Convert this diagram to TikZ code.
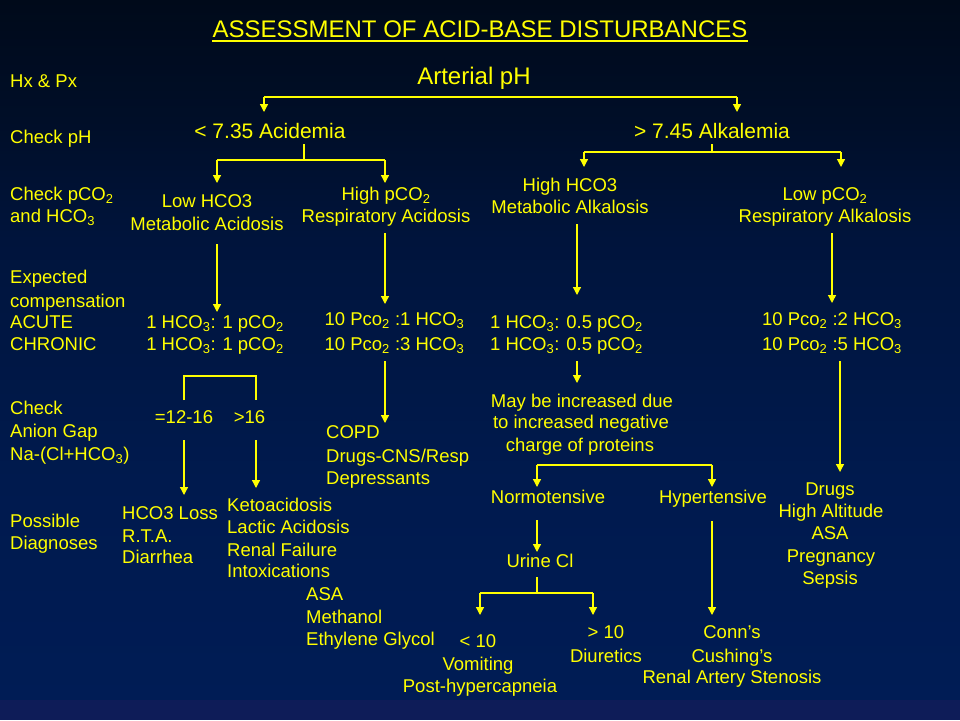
\documentclass[tikz,border=0pt]{standalone}
\usepackage{fontspec}
\setmainfont{Liberation Sans}
\usetikzlibrary{arrows.meta}
\definecolor{yel}{RGB}{255,255,0}
\definecolor{cA}{RGB}{0,10,26}
\definecolor{cB}{RGB}{0,14,40}
\definecolor{cC}{RGB}{0,20,60}
\definecolor{cD}{RGB}{0,26,78}
\definecolor{cE}{RGB}{0,28,85}
\definecolor{cstrip}{RGB}{14,28,88}
\pgfdeclareverticalshading{bgshade}{100bp}{color(0bp)=(cE); color(25bp)=(cE); color(40.7bp)=(cD); color(57.9bp)=(cC); color(66.4bp)=(cB); color(75bp)=(cA); color(100bp)=(cA)}
\newcommand\sub[1]{\textsubscript{#1}}
\begin{document}
\begin{tikzpicture}[x=1pt,y=-1pt,
  txt/.style={text=yel,inner sep=0pt,anchor=base,font=\fontsize{18.5}{22}\selectfont},
  ltxt/.style={txt,anchor=base west},
  big/.style={txt,font=\fontsize{24}{28}\selectfont},
  mid/.style={txt,font=\fontsize{21}{25}\selectfont},
  ln/.style={draw=yel,line width=1.3pt},
  arr/.style={ln,-{Triangle[width=8pt,length=8pt]}}]
\useasboundingbox (0,0) rectangle (960,720);
\shade[shading=bgshade] (0,0) rectangle (960,700);
\fill[cstrip] (0,700) rectangle (960,720);
% title
\node[big] (title) at (480,37) {ASSESSMENT OF ACID-BASE DISTURBANCES};
\draw[yel,line width=1.6pt] ([yshift=-4pt]title.base west) -- ([yshift=-4pt]title.base east);
% left labels
\node[ltxt] (hx) at (10,87) {Hx \& Px};
\node[ltxt] (chkph) at (10,143) {Check pH};
\node[ltxt] (chkp1) at (10,200) {Check pCO\sub{2}};
\node[ltxt] (chkp2) at (10,222) {and HCO\sub{3}};
\node[ltxt] (exp1) at (10,283) {Expected};
\node[ltxt] (exp2) at (10,307) {compensation};
\node[ltxt] (exp3) at (10,328) {ACUTE};
\node[ltxt] (exp4) at (10,350) {CHRONIC};
\node[ltxt] (ag1) at (10,414) {Check};
\node[ltxt] (ag2) at (10,437) {Anion Gap};
\node[ltxt] (ag3) at (10,460) {Na-(Cl+HCO\sub{3})};
\node[ltxt] (pd1) at (10,527) {Possible};
\node[ltxt] (pd2) at (10,549) {Diagnoses};
% top levels
\node[big] (ph) at (474,84) {Arterial pH};
\node[mid] (acid) at (270,138) {< 7.35 Acidemia};
\node[mid] (alk) at (712,138) {> 7.45 Alkalemia};
\coordinate (phl) at (264,97);
\coordinate (phr) at (737,97);
\draw[ln] (phl) -- (phr);
\draw[arr] (phl) -- (264,112);
\draw[arr] (phr) -- (737,112);
% acidemia branch
\coordinate (acs) at (304,144);
\draw[ln] (acs) -- (304,160);
\draw[ln] (217,160) -- (385,160);
\draw[arr] (217,160) -- (217,183);
\draw[arr] (385,160) -- (385,183);
% alkalemia branch
\coordinate (als) at (712,144);
\draw[ln] (als) -- (712,152);
\draw[ln] (584,152) -- (841,152);
\draw[arr] (584,152) -- (584,167);
\draw[arr] (841,152) -- (841,167);
% disorders
\node[txt] (lowa) at (207,207) {Low HCO3};
\node[txt] (lowb) at (207,230) {Metabolic Acidosis};
\node[txt] (higha) at (386,200) {High pCO\sub{2}};
\node[txt] (highb) at (386,222) {Respiratory Acidosis};
\node[txt] (hha) at (570,191) {High HCO3};
\node[txt] (hhb) at (570,213) {Metabolic Alkalosis};
\node[txt] (lpa) at (825,200) {Low pCO\sub{2}};
\node[txt] (lpb) at (825,222) {Respiratory Alkalosis};
\draw[arr] (217,244) -- (217,312);
\draw[arr] (385,233) -- (385,304);
\draw[arr] (577,224) -- (577,295);
\draw[arr] (832,233) -- (832,303);
% compensation
\node[txt] (c1a) at (215,328) {1 HCO\sub{3}: 1 pCO\sub{2}};
\node[txt] (c1b) at (215,350) {1 HCO\sub{3}: 1 pCO\sub{2}};
\node[txt] (c2a) at (394.5,325) {10 Pco\sub{2} :1 HCO\sub{3}};
\node[txt] (c2b) at (394.5,350) {10 Pco\sub{2} :3 HCO\sub{3}};
\node[txt] (c3a) at (566.5,328) {1 HCO\sub{3}: 0.5 pCO\sub{2}};
\node[txt] (c3b) at (566.5,350) {1 HCO\sub{3}: 0.5 pCO\sub{2}};
\node[txt] (c4a) at (832,325) {10 Pco\sub{2} :2 HCO\sub{3}};
\node[txt] (c4b) at (832,350) {10 Pco\sub{2} :5 HCO\sub{3}};
% anion gap
\draw[ln] (184,400) -- (184,376) -- (256,376) -- (256,400);
\node[txt] (gap1) at (184,423) {=12-16};
\node[txt] (gap2) at (249.5,423) {>16};
\draw[arr] (184,440) -- (184,495);
\draw[arr] (256,440) -- (256,488);
% resp acidosis causes
\draw[arr] (385,361) -- (385,423);
\node[ltxt] (copd1) at (326,438) {COPD};
\node[ltxt] (copd2) at (326,462) {Drugs-CNS/Resp};
\node[ltxt] (copd3) at (326,484) {Depressants};
% metabolic acidosis diagnoses
\node[ltxt] (d1) at (122,519) {HCO3 Loss};
\node[ltxt] (d2) at (122,542) {R.T.A.};
\node[ltxt] (d3) at (122,563) {Diarrhea};
\node[ltxt] (k1) at (227,511) {Ketoacidosis};
\node[ltxt] (k2) at (227,533) {Lactic Acidosis};
\node[ltxt] (k3) at (227,556) {Renal Failure};
\node[ltxt] (k4) at (227,577) {Intoxications};
\node[ltxt] (k5) at (306,600) {ASA};
\node[ltxt] (k6) at (306,623) {Methanol};
\node[ltxt] (k7) at (306,645) {Ethylene Glycol};
% metabolic alkalosis
\draw[arr] (577,361) -- (577,383);
\node[txt] (may1) at (582,407) {May be increased due};
\node[txt] (may2) at (581,428) {to increased negative};
\node[txt] (may3) at (580,451) {charge of proteins};
\draw[ln] (537,465) -- (712,465);
\draw[arr] (537,465) -- (537,487);
\draw[arr] (712,465) -- (712,487);
\node[txt] (norm) at (548,503) {Normotensive};
\node[txt] (hyper) at (713,503) {Hypertensive};
\draw[arr] (537,520) -- (537,552);
\node[txt] (urine) at (540,567) {Urine Cl};
\draw[ln] (537,577) -- (537,593);
\draw[ln] (480,593) -- (593,593);
\draw[arr] (480,593) -- (480,615);
\draw[arr] (593,593) -- (593,615);
\node[txt] (lt10) at (478,647) {< 10};
\node[txt] (vom) at (478,670) {Vomiting};
\node[txt] (post) at (480,692) {Post-hypercapneia};
\node[txt] (gt10) at (606,638) {> 10};
\node[txt] (diur) at (606,662) {Diuretics};
\draw[arr] (712,521) -- (712,615);
\node[txt] (conn) at (732,638) {Conn’s};
\node[txt] (cush) at (732,662) {Cushing’s};
\node[txt] (ras) at (732,683) {Renal Artery Stenosis};
% respiratory alkalosis
\draw[arr] (840,361) -- (840,472);
\node[txt] (ra1) at (830,495) {Drugs};
\node[txt] (ra2) at (831,517) {High Altitude};
\node[txt] (ra3) at (830,539) {ASA};
\node[txt] (ra4) at (831,562) {Pregnancy};
\node[txt] (ra5) at (830,584) {Sepsis};
\end{tikzpicture}
\end{document}
